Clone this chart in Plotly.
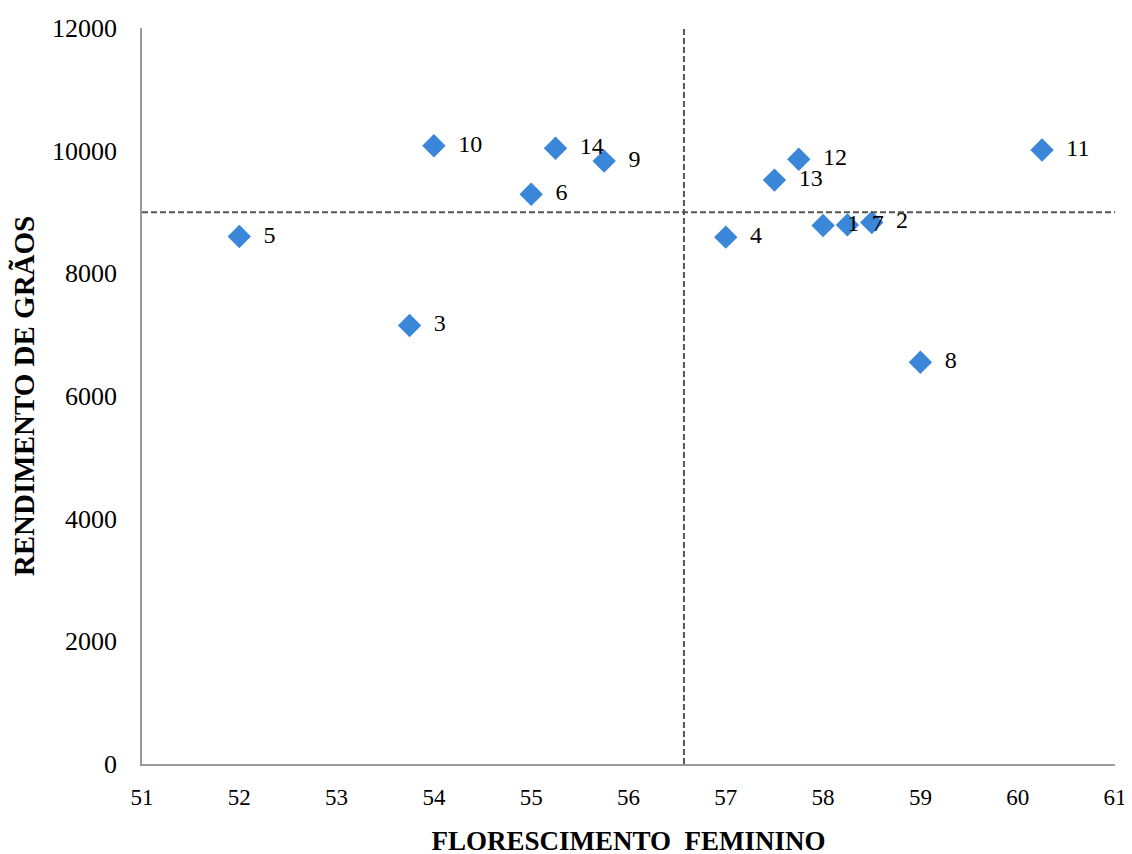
import plotly.graph_objects as go

labels = ["1", "2", "3", "4", "5", "6", "7", "8", "9", "10", "11", "12", "13", "14"]
florescimento = [58.0, 58.5, 53.75, 57.0, 52.0, 55.0, 58.25, 59.0, 55.75, 54.0, 60.25, 57.75, 57.5, 55.25]
rendimento = [8780, 8830, 7150, 8590, 8600, 9290, 8790, 6550, 9830, 10080, 10010, 9860, 9520, 10040]

x_ticks = [51, 52, 53, 54, 55, 56, 57, 58, 59, 60, 61]
y_ticks = [0, 2000, 4000, 6000, 8000, 10000, 12000]
y_tick_text = ["0", "2000", "4000", "6000", "8000", "10000", "12000"]

media_x = 56.57
media_y = 8994

font_family = "Liberation Serif, Times New Roman, serif"

fig = go.Figure()
fig.add_trace(go.Scatter(
    x=florescimento, y=rendimento, mode="markers+text",
    text=["  " + t for t in labels], textposition="middle right",
    textfont=dict(family=font_family, size=24, color="black"),
    marker=dict(symbol="diamond", size=18, color="#3A86D8"),
    cliponaxis=False, showlegend=False,
))

fig.add_shape(type="line", x0=media_x, x1=media_x, y0=0, y1=12000, xref="x", yref="y",
              line=dict(color="#555555", width=2, dash="6px,3px"))
fig.add_shape(type="line", x0=51, x1=61, y0=media_y, y1=media_y, xref="x", yref="y",
              line=dict(color="#555555", width=2, dash="6px,3px"))

fig.update_layout(
    width=1132, height=854,
    margin=dict(l=134, r=25, t=20, b=98),
    plot_bgcolor="white", paper_bgcolor="white",
    font=dict(family=font_family, size=22, color="black"),
)
fig.update_xaxes(
    range=[51, 61], tickvals=x_ticks, showgrid=False, zeroline=False,
    showline=True, linecolor="#999999", linewidth=1.5, ticks="",
    tickfont=dict(family=font_family, size=23), ticklabelstandoff=12,
    automargin=False,
    title=dict(text="<b>FLORESCIMENTO  FEMININO</b>", font=dict(family=font_family, size=27), standoff=22),
)
fig.update_yaxes(
    range=[0, 12000], tickvals=y_ticks, ticktext=y_tick_text, showgrid=False, zeroline=False,
    showline=True, linecolor="#999999", linewidth=1.5, ticks="",
    tickfont=dict(family=font_family, size=26), ticklabelstandoff=18,
    automargin=False,
    title=dict(text="<b>RENDIMENTO DE GRÃOS</b>", font=dict(family=font_family, size=29), standoff=10),
)

fig.write_html("out.html")
